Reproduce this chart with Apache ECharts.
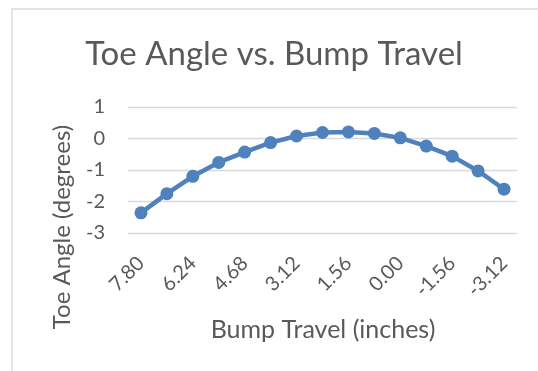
<!DOCTYPE html>
<html>
<head>
<meta charset="utf-8">
<script src="https://cdn.jsdelivr.net/npm/echarts@6/dist/echarts.min.js"></script>
<style>
  html, body { margin: 0; padding: 0; background: #ffffff; }
  #chart { width: 538px; height: 371px; }
</style>
</head>
<body>
<div id="chart"></div>
<script>
// Bump travel steps (inches), from full bump to droop
const bumpTravel = ['7.80', '7.02', '6.24', '5.46', '4.68', '3.90', '3.12', '2.34',
                    '1.56', '0.78', '0.00', '-0.78', '-1.56', '-2.34', '-3.12'];
// Toe angle at each step (degrees)
const toeAngle = [-2.36, -1.75, -1.20, -0.76, -0.43, -0.13, 0.08, 0.19,
                  0.21, 0.16, 0.02, -0.24, -0.56, -1.03, -1.61];

const chartTitle = 'Toe Angle vs. Bump Travel';
const xTitle = 'Bump Travel (inches)';
const yTitle = 'Toe Angle (degrees)';

const FONT = 'Lato';
const TEXT = '#595959';
const GRID = '#d9d9d9';
const LINE = '#4f81bd';

const chart = echarts.init(document.getElementById('chart'), null, { renderer: 'canvas' });

chart.setOption({
  animation: false,
  backgroundColor: '#ffffff',
  grid: { left: 128, right: 21, top: 107, bottom: 138 },
  xAxis: {
    type: 'category',
    data: bumpTravel,
    boundaryGap: true,
    axisLine: { show: false },
    axisTick: { show: false },
    axisLabel: {
      interval: 1,
      rotate: 45,
      margin: 27,
      color: TEXT,
      fontFamily: FONT,
      fontSize: 20
    },
    splitLine: { show: false }
  },
  yAxis: {
    type: 'value',
    min: -3,
    max: 1,
    interval: 1,
    axisLine: { show: false },
    axisTick: { show: false },
    axisLabel: {
      margin: 23,
      color: TEXT,
      fontFamily: FONT,
      fontSize: 20
    },
    splitLine: { show: true, lineStyle: { color: GRID, width: 1.3 } }
  },
  series: [{
    type: 'line',
    data: toeAngle,
    smooth: false,
    symbol: 'circle',
    symbolSize: 13,
    lineStyle: { color: LINE, width: 4.5 },
    itemStyle: { color: LINE },
    z: 3
  }],
  graphic: [
    {
      type: 'rect',
      shape: { x: 12, y: 9, width: 600, height: 500 },
      style: { fill: null, stroke: GRID, lineWidth: 1.3 },
      silent: true
    },
    {
      type: 'text',
      x: 274, y: 54,
      style: {
        text: chartTitle, fill: TEXT, font: '33px ' + FONT,
        textAlign: 'center', textVerticalAlign: 'middle'
      }
    },
    {
      type: 'text',
      x: 323, y: 330,
      style: {
        text: xTitle, fill: TEXT, font: '25px ' + FONT,
        textAlign: 'center', textVerticalAlign: 'middle'
      }
    },
    {
      type: 'text',
      x: 62, y: 227,
      rotation: Math.PI / 2,
      style: {
        text: yTitle, fill: TEXT, font: '24px ' + FONT,
        textAlign: 'center', textVerticalAlign: 'middle'
      }
    }
  ]
});
</script>
</body>
</html>
